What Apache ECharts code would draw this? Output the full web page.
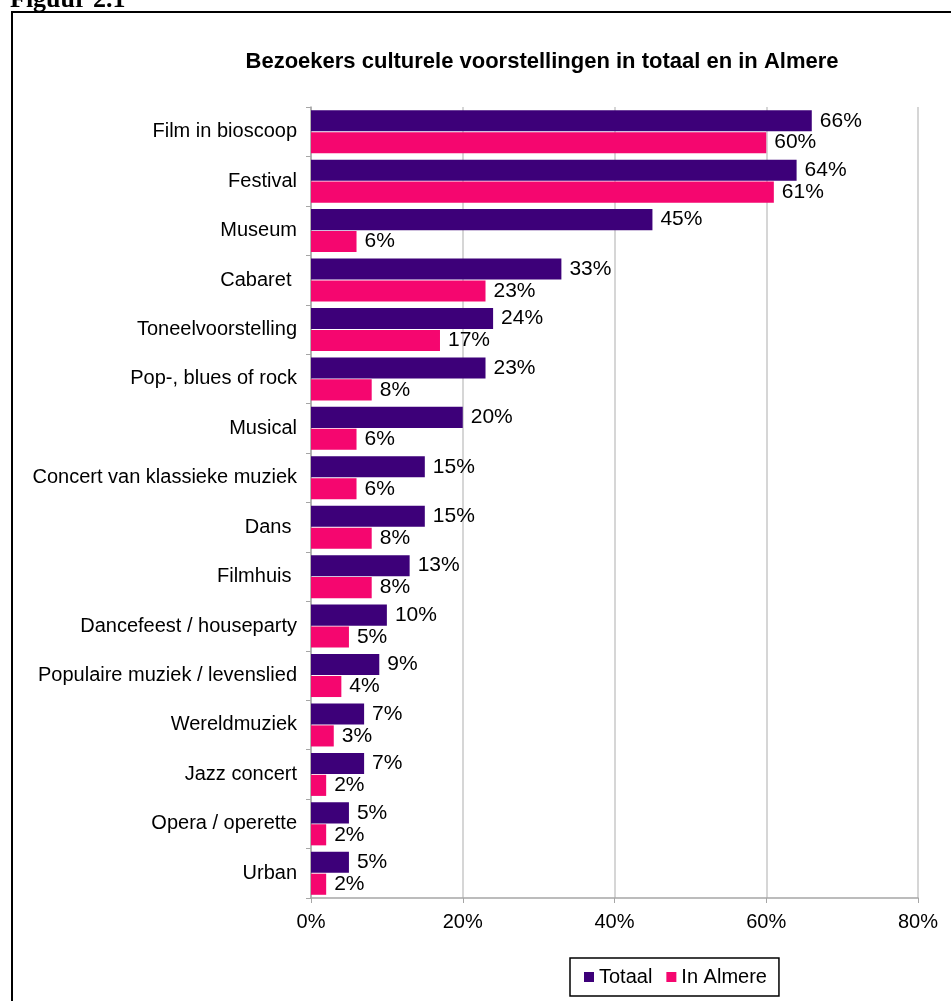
<!DOCTYPE html>
<html>
<head>
<meta charset="utf-8">
<script src="https://cdn.jsdelivr.net/npm/echarts@6/dist/echarts.min.js"></script>
<style>
  html, body { margin: 0; padding: 0; background: #fff; }
  #chart { width: 951px; height: 1001px; }
</style>
</head>
<body>
<div id="chart"></div>
<script>
// categorieen, van boven naar beneden
const categories = [
  "Film in bioscoop", "Festival", "Museum", "Cabaret ", "Toneelvoorstelling",
  "Pop-, blues of rock", "Musical", "Concert van klassieke muziek", "Dans ",
  "Filmhuis ", "Dancefeest / houseparty", "Populaire muziek / levenslied",
  "Wereldmuziek", "Jazz concert", "Opera / operette", "Urban"
];
const totaal = [66, 64, 45, 33, 24, 23, 20, 15, 15, 13, 10, 9, 7, 7, 5, 5];
const almere = [60, 61, 6, 23, 17, 8, 6, 6, 8, 8, 5, 4, 3, 2, 2, 2];
const xTicks = [0, 20, 40, 60, 80];

const font = "Liberation Sans, Arial, sans-serif";
const purple = "#3d0079";
const pink = "#f5066f";

const mychart = echarts.init(document.getElementById("chart"));

const valueLabel = {
  show: true,
  position: "right",
  distance: 8,
  formatter: function(p) { return p.value + "%"; },
  fontFamily: font,
  fontSize: 21,
  color: "#000"
};

let option = {
  animation: false,
  backgroundColor: "#fff",
  title: {
    text: "Bezoekers culturele voorstellingen in totaal en in Almere",
    left: 537,
    textAlign: "center",
    top: 46,
    textStyle: { fontFamily: font, fontSize: 22, fontWeight: "bold", color: "#000" }
  },
  legend: {
    data: ["Totaal", "In Almere"],
    left: 570,
    top: 958,
    padding: [9, 12, 9, 14],
    itemGap: 14,
    itemWidth: 10,
    itemHeight: 10,
    icon: "rect",
    borderColor: "#000",
    borderWidth: 1.5,
    textStyle: { fontFamily: font, fontSize: 20, color: "#000", padding: [0, 0, 0, 0] }
  },
  grid: { left: 311, right: 33, top: 107, bottom: 103, containLabel: false },
  xAxis: {
    type: "value",
    min: 0,
    max: 80,
    interval: 20,
    axisLine: { show: true, lineStyle: { color: "#a6a6a6", width: 1.5 } },
    axisTick: { show: true, length: 5, lineStyle: { color: "#a6a6a6" } },
    splitLine: { show: true, lineStyle: { color: "#c8c8c8", width: 1.5 } },
    axisLabel: {
      formatter: function(v) { return xTicks.indexOf(v) >= 0 ? v + "%" : ""; },
      fontFamily: font, fontSize: 20, color: "#000", margin: 14
    }
  },
  yAxis: {
    type: "category",
    data: categories,
    inverse: true,
    axisLine: { show: true, lineStyle: { color: "#a6a6a6", width: 1.5 } },
    axisTick: { show: true, length: 5, lineStyle: { color: "#a6a6a6" } },
    axisLabel: { fontFamily: font, fontSize: 20, color: "#000", margin: 14 }
  },
  series: [
    {
      name: "Totaal",
      type: "bar",
      data: totaal,
      barGap: "4%",
      barCategoryGap: "13%",
      itemStyle: { color: purple },
      label: valueLabel
    },
    {
      name: "In Almere",
      type: "bar",
      data: almere,
      itemStyle: { color: pink },
      label: valueLabel
    }
  ],
  graphic: [
    {
      type: "rect",
      shape: { x: 12, y: 12, width: 1000, height: 1100 },
      style: { fill: "none", stroke: "#000", lineWidth: 2 },
      z: -1
    },
    {
      type: "text",
      x: 10,
      y: 0,
      style: {
        text: "Figuur 2.1",
        font: "bold 26px Liberation Serif, Times New Roman, serif",
        fill: "#000",
        verticalAlign: "middle"
      }
    }
  ]
};

mychart.setOption(option);
</script>
</body>
</html>
